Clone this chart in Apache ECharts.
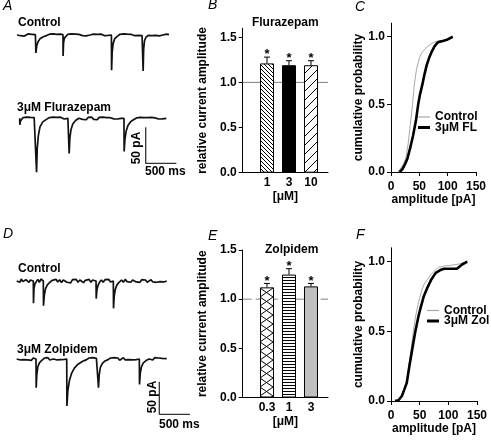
<!DOCTYPE html>
<html><head><meta charset="utf-8">
<script src="https://cdn.jsdelivr.net/npm/echarts@6/dist/echarts.min.js"></script>
<style>html,body{margin:0;padding:0;background:#fff}#c{width:491px;height:440px}</style>
</head><body><div id="c"></div>
<script>
// ---------- DATA ----------
// Panel A traces: [time ms, current pA]
const traceA_control = [[0,0],[30,1.5],[60,-1],[90,1.2],[120,-1.5],[150,0.8],[180,1.5],[210,-0.8],[240,1],[270,-1.2],[300,0.5],
 [305,0],[308,-25],[322,-15],[345,-9],[380,-5],[430,-2.5],[490,-0.5],[530,1.2],[560,-1],[590,1.5],[620,-0.5],[650,1],[680,-1.3],[710,1.2],[740,0],
 [750,0.5],[752,-29],[760,-10],[775,-4],[800,-1.5],[830,1],[860,-1],[890,1.5],[920,-0.5],[950,1.2],[980,-1.2],[1010,0.8],[1040,1.5],[1070,-0.8],[1100,1],[1130,-1.2],[1160,1.4],[1190,0],[1220,-1],[1250,1.3],[1280,-0.5],[1310,1],[1340,-1.4],[1370,1.2],[1400,0.3],[1430,-1],[1460,1.5],[1490,-0.6],[1520,1],
 [1540,0],[1543,-49],[1553,-24],[1568,-12],[1595,-5],[1640,-1.5],[1680,1],[1710,-1],[1740,1.5],[1770,-0.5],[1800,1.2],[1830,-1.3],[1860,1],[1890,0.2],[1920,-1],[1950,1.4],[1980,-0.6],[2010,1],[2040,-0.8],
 [2055,0],[2058,-50],[2066,-20],[2080,-8],[2105,-3],[2140,-0.5],[2170,1.2],[2200,-1],[2230,1.5],[2260,-0.5],[2290,1],[2320,-1.2],[2350,1.3],[2380,0],[2410,-1],[2440,1.2],[2470,-0.5],[2480,0.5]];
const traceA_flurazepam = [[44,0],[46,-9],[55,-4],[75,-1.5],[100,1],[130,-1],[160,1.5],[190,-0.5],[220,1.2],[250,-1],[280,1],[310,0],
 [316,0],[319,-75],[330,-42],[348,-24],[375,-12],[420,-5],[480,-1.5],[530,1],[560,-1],[590,1.5],[620,-0.8],[650,1.2],[680,-1],[710,1.5],[740,0],[770,-1],[800,1.3],[830,0],
 [848,0],[851,-49],[862,-28],[880,-16],[910,-8],[955,-3],[1010,0],[1040,1.5],[1070,-1.5],[1100,1],[1130,-2],[1160,1.2],[1190,-0.5],[1220,1.5],[1250,-1.5],[1280,0.5],[1310,-2],[1340,1.3],[1370,-0.5],[1400,1.5],[1430,-1],[1460,1],[1490,-1.5],[1520,0.8],[1550,1.5],[1580,-0.8],[1610,1.2],[1640,-1],[1670,1.5],[1700,0],[1730,1],
 [1745,0],[1748,-46],[1760,-30],[1780,-18],[1810,-10],[1850,-5],[1900,-2],[1950,0.5],[1980,-1],[2010,1.3],[2040,-0.5],[2070,1],[2100,-1.2],[2130,1],[2160,-0.5],[2190,1.3],[2220,-1],[2250,0.5],[2280,1.2],[2310,-1],[2340,0.8],[2370,-0.8],[2400,1],[2437,0]];
// Panel D traces
const traceD_control = [[0,0],[25,2.5],[50,-2],[75,3],[100,-1],[125,-3],[150,2],[175,3],[200,-2],[225,1.5],[250,-1],
 [271,0],[274,-34],[282,-12],[295,-5],[320,-1],[345,2.5],[370,-2],[395,3],[420,0],
 [434,0],[437,-38],[450,-22],[470,-12],[500,-6],[540,-2],[580,1],[610,-2],[640,2.5],[670,-1.5],[700,2],[730,-2.5],[760,1.5],[790,3],[820,-2],[850,1],[880,-3],[910,2],[940,-1],[970,2.5],[1000,-2],[1030,1.5],[1060,3],[1090,-2.5],[1120,1],[1150,-1.5],[1180,2.5],[1210,-2],[1240,1.5],[1270,0],
 [1294,0],[1297,-27],[1308,-14],[1325,-7],[1350,-2],[1380,1.5],[1410,-2],[1440,2],[1470,-1],[1500,2.5],[1530,-1.5],[1560,1],
 [1576,0],[1579,-42],[1590,-24],[1608,-13],[1635,-6],[1670,-2],[1710,1.5],[1740,-2],[1770,2.5],[1800,-1],[1830,2],[1860,-2],[1890,1.5],[1920,2.5],[1950,-1.5],[1980,1],[2010,-2],[2040,2],[2070,-1],[2100,1.5],[2130,-2],[2160,1],[2190,2],[2220,-1.5],[2250,1],[2280,-2],[2310,0.5],[2340,-1],[2370,1],[2400,-1.5],[2447,0]];
const traceD_zolpidem = [[0,0],[30,2],[60,-1.5],[90,1.5],[120,-1],[150,2],[180,-1.5],[210,1],[240,-2],[270,1.5],[300,0],
 [315,0],[318,-44],[328,-24],[345,-12],[370,-6],[410,-2],[450,1.5],[480,-1],[510,2],[540,-1.5],[570,1.5],[600,0],[630,2],[660,-1.5],[690,1.5],[720,-1],[750,2],[780,-0.5],[805,1],
 [816,0],[819,-72],[835,-48],[860,-33],[895,-22],[940,-14],[1000,-8],[1070,-4],[1140,-1],[1180,1.5],[1210,-1.5],[1240,2],[1270,-1],[1300,1],[1320,0],
 [1331,0],[1334,-44],[1346,-24],[1365,-13],[1395,-7],[1440,-3],[1490,-1],[1530,1.5],[1560,-1.5],[1590,2],[1620,-1],[1650,1.5],[1680,-2],[1710,1],[1740,2],[1770,-1.5],[1800,1],[1830,-1],[1860,2],[1890,-1.5],[1920,1],[1950,-1],[1980,0.5],
 [2000,0],[2003,-39],[2015,-22],[2035,-12],[2065,-6],[2110,-2.5],[2160,0],[2190,1.5],[2220,-1.5],[2250,2],[2280,-1],[2310,1.5],[2340,-1.5],[2370,1],[2400,-0.5],[2447,0.5]];
const scaleBarMs = 500, scaleBarPA = 50;

// Panel B
const catsB = ['1','3','10'];
const meanB = [1.21, 1.19, 1.19];
const semB  = [0.07, 0.05, 0.05];
// Panel E
const catsE = ['0.3','1','3'];
const meanE = [1.12, 1.25, 1.13];
const semE  = [0.04, 0.06, 0.03];

// Panel C cumulative distributions: [amplitude pA, probability]
const cdfC_control = [[12,0],[16,0.02],[22,0.06],[26,0.1],[30,0.2],[34,0.35],[38,0.5],[41,0.64],[45,0.76],[50,0.84],[54,0.88],[58,0.9],[65,0.93],[72,0.95],[77,0.96],[85,0.965],[93,0.97],[100,0.98],[109,1.0]];
const cdfC_fl = [[15,0],[20,0.02],[25,0.06],[29,0.1],[34,0.18],[39,0.27],[44,0.38],[48,0.5],[51,0.57],[55,0.64],[59,0.72],[63,0.79],[67,0.84],[72,0.89],[77,0.93],[83,0.96],[93,0.97],[100,0.98],[109,1.0]];
// Panel F
const cdfF_control = [[7,0],[15,0.01],[20,0.04],[26,0.13],[30,0.22],[35,0.37],[39,0.5],[43,0.61],[48,0.71],[54,0.8],[58,0.84],[63,0.87],[70,0.91],[77,0.94],[83,0.96],[95,0.97],[106,0.975],[120,0.985],[133,1.0]];
const cdfF_zol = [[7,0],[13,0.005],[19,0.036],[23,0.08],[27.5,0.13],[32,0.25],[37,0.37],[42,0.49],[48,0.61],[53,0.69],[57,0.75],[63,0.81],[70,0.87],[78,0.92],[86,0.94],[93,0.95],[100,0.95],[115,0.95],[124,0.98],[133,1.0]];

const yTicksBar = [0, 0.5, 1.0, 1.5];
const yTicksCdf = [0, 0.5, 1.0];

// ---------- STYLE / LAYOUT ----------
const FF = '"Liberation Sans", Arial, sans-serif';
const BOLD = {fontFamily: FF, fontWeight: 'bold', fontSize: 12, color: '#000'};

function pattern(kind){
  const c = document.createElement('canvas');
  let w = 4, h = 4;
  if (kind === 'fwd') { w = 9; h = 9; }
  if (kind === 'cross') { w = 13; h = 9; }
  if (kind === 'horiz') { w = 4; h = 3; }
  c.width = w; c.height = h;
  const g = c.getContext('2d');
  g.fillStyle = '#fff'; g.fillRect(0,0,w,h);
  g.strokeStyle = '#000'; g.lineWidth = 1;
  g.beginPath();
  if (kind === 'back') {
    g.moveTo(-1,-1); g.lineTo(w+1,h+1);
    g.moveTo(-1,h-1); g.lineTo(1,h+1);
    g.moveTo(w-1,-1); g.lineTo(w+1,1);
  } else if (kind === 'fwd') {
    g.moveTo(-1,h+1); g.lineTo(w+1,-1);
    g.moveTo(-1,1); g.lineTo(1,-1);
    g.moveTo(w-1,h+1); g.lineTo(w+1,h-1);
  } else if (kind === 'cross') {
    g.moveTo(0,0); g.lineTo(w,h);
    g.moveTo(0,h); g.lineTo(w,0);
  }
  g.stroke();
  if (kind === 'horiz') { g.fillStyle = '#000'; g.fillRect(0,1,w,1); }
  return {image: c, repeat: 'repeat'};
}

const patB = [pattern('back'), '#000', pattern('fwd')];
const patE = [pattern('cross'), pattern('horiz'), '#c0c0c0'];

const XMIN = -0.1045, XMAX = 3.773;

function traceX(gi, max){ return {type:'value', gridIndex:gi, min:0, max:max, show:false}; }
function traceY(gi, min, max){ return {type:'value', gridIndex:gi, min:min, max:max, show:false}; }

function barX(gi, cats){
  return {type:'value', gridIndex:gi, min:XMIN, max:XMAX,
    axisLine:{show:true, onZero:false, lineStyle:{color:'#000', width:1}},
    axisTick:{show:false}, splitLine:{show:false},
    axisLabel:{customValues:[1,2,3], formatter:v=>cats[Math.round(v)-1], margin:4, ...BOLD},
    name:'[\u03bcM]', nameLocation:'middle', nameGap:18, nameTextStyle:{...BOLD}};
}
function barY(gi, max){
  return {type:'value', gridIndex:gi, min:0, max:max,
    axisLine:{show:true, onZero:false, lineStyle:{color:'#000', width:1}},
    axisTick:{show:true, length:4, customValues:yTicksBar, lineStyle:{color:'#000'}},
    splitLine:{show:false},
    axisLabel:{customValues:yTicksBar, formatter:v=>v.toFixed(1), margin:6, ...BOLD},
    name:'relative current amplitude', nameLocation:'middle', nameGap:34, nameTextStyle:{...BOLD}};
}
function cdfX(gi, gap){
  return {type:'value', gridIndex:gi, min:0, max:150, interval:50,
    axisLine:{show:true, onZero:false, lineStyle:{color:'#000', width:1}},
    axisTick:{show:true, length:4, lineStyle:{color:'#000'}},
    splitLine:{show:false},
    axisLabel:{margin:9, ...BOLD},
    name:'amplitude [pA]', nameLocation:'middle', nameGap:gap, nameTextStyle:{...BOLD}};
}
function cdfY(gi, gap){
  return {type:'value', gridIndex:gi, min:0, max:1.1,
    axisLine:{show:true, onZero:false, lineStyle:{color:'#000', width:1}},
    axisTick:{show:true, length:4, customValues:yTicksCdf, lineStyle:{color:'#000'}},
    splitLine:{show:false},
    axisLabel:{customValues:yTicksCdf, formatter:v=>v.toFixed(1), margin:6, ...BOLD},
    name:'cumulative probability', nameLocation:'middle', nameGap:gap, nameTextStyle:{...BOLD}};
}

function traceSeries(gi, data){
  return {type:'line', xAxisIndex:gi, yAxisIndex:gi, data:data, symbol:'none',
    lineStyle:{color:'#111', width:1.7}, itemStyle:{color:'#111'}, silent:true, clip:false};
}
function scaleBar(gi, t0, i0){
  return {type:'line', xAxisIndex:gi, yAxisIndex:gi, symbol:'none', silent:true,
    data:[[t0, i0 + scaleBarPA],[t0, i0],[t0 + scaleBarMs, i0]],
    lineStyle:{color:'#333', width:1.3}, itemStyle:{color:'#333'}};
}
function refLine(gi, dashed){
  return {type:'line', xAxisIndex:gi, yAxisIndex:gi, symbol:'none', silent:true, z:1,
    data:[[XMIN,1],[XMAX,1]],
    lineStyle:{color:'#808080', width:1, type: dashed ? [9,4] : 'solid'}, itemStyle:{color:'#808080'}};
}
function barSeries(gi, means, pats){
  return {type:'bar', xAxisIndex:gi, yAxisIndex:gi, barWidth:14, z:3, silent:true,
    data: means.map((v,i)=>({value:[i+1, v], itemStyle:{color:pats[i], borderColor:'#000', borderWidth:1}}))};
}
function errSeries(gi, means, sems){
  return {type:'custom', xAxisIndex:gi, yAxisIndex:gi, z:4, silent:true,
    data: means.map((v,i)=>[i+1, v, sems[i]]),
    renderItem:function(params, api){
      const x = api.value(0), v = api.value(1), e = api.value(2);
      const p0 = api.coord([x, v]), p1 = api.coord([x, v + e]);
      return {type:'group', children:[
        {type:'line', shape:{x1:p0[0], y1:p0[1], x2:p1[0], y2:p1[1]}, style:{stroke:'#000', lineWidth:1}},
        {type:'line', shape:{x1:p1[0]-3, y1:p1[1], x2:p1[0]+3, y2:p1[1]}, style:{stroke:'#000', lineWidth:1}},
        {type:'text', x:p1[0], y:p1[1]+4, style:{text:'*', font:'bold 13px ' + FF, fill:'#000',
          align:'center', verticalAlign:'bottom', textAlign:'center', textVerticalAlign:'bottom'}}
      ]};
    }};
}
function cdfSeries(gi, name, data, thick){
  const col = thick ? '#000' : '#a8a8a8';
  return {type:'line', name:name, xAxisIndex:gi, yAxisIndex:gi, data:data, symbol:'none', silent:true,
    lineStyle:{color:col, width: thick ? 2.6 : 1}, itemStyle:{color:col}};
}
function txt(x, y, s, opts){
  opts = opts || {};
  return {type:'text', x:x, y:y, rotation: opts.rot || 0, silent:true,
    style:{text:s, font: opts.font || ('bold 12px ' + FF), fill:'#000',
      align: opts.align || 'left', verticalAlign:'middle',
      textAlign: opts.align || 'left', textVerticalAlign:'middle'}};
}
function legendOne(name, left, top, h, w){
  return {data:[name], left:left, top:top, orient:'vertical', padding:0, icon:'rect',
    itemWidth:w, itemHeight:h, selectedMode:false, textStyle:{...BOLD}};
}

const ITAL = 'italic 14px ' + FF;

const option = {
  animation:false,
  backgroundColor:'#fff',
  textStyle:{fontFamily:FF},
  grid:[
    {left:17, top:24.2, width:165.5, height:54, outerBoundsMode:'none'},
    {left:17, top:107.5, width:165.5, height:68.4, outerBoundsMode:'none'},
    {left:242.7, top:28.2, width:85.3, height:144.5, outerBoundsMode:'none'},
    {left:391, top:23.2, width:85, height:148.8, outerBoundsMode:'none'},
    {left:16.7, top:271.2, width:177.8, height:48.9, outerBoundsMode:'none'},
    {left:16.7, top:349.2, width:177.8, height:68.5, outerBoundsMode:'none'},
    {left:242.7, top:250, width:85.3, height:147.5, outerBoundsMode:'none'},
    {left:391, top:247.8, width:86, height:153.2, outerBoundsMode:'none'}
  ],
  xAxis:[traceX(0,2700), traceX(1,2700), barX(2,catsB), cdfX(3,18), traceX(4,2900), traceX(5,2900), barX(6,catsE), cdfX(7,15)],
  yAxis:[traceY(0,-60,15), traceY(1,-80,15), barY(2,1.6), cdfY(3,22), traceY(4,-60,15), traceY(5,-90,15), barY(6,1.5), cdfY(7,24)],
  legend:[
    legendOne('Control', 418, 111, 1.2, 12),
    legendOne('3\u03bcM FL', 418, 121.5, 3, 12),
    legendOne('Control', 427, 304.5, 1.2, 12),
    legendOne('3\u03bcM Zol', 427, 315, 3, 12)
  ],
  series:[
    traceSeries(0, traceA_control),
    traceSeries(1, traceA_flurazepam),
    scaleBar(1, 2100, -62.5),
    refLine(2, false),
    barSeries(2, meanB, patB),
    errSeries(2, meanB, semB),
    cdfSeries(3, 'Control', cdfC_control, false),
    cdfSeries(3, '3\u03bcM FL', cdfC_fl, true),
    traceSeries(4, traceD_control),
    traceSeries(5, traceD_zolpidem),
    scaleBar(5, 2326, -84.8),
    refLine(6, true),
    barSeries(6, meanE, patE),
    errSeries(6, meanE, semE),
    cdfSeries(7, 'Control', cdfF_control, false),
    cdfSeries(7, '3\u03bcM Zol', cdfF_zol, true)
  ],
  graphic:[
    txt(3, 6, 'A', {font:ITAL}),
    txt(208, 5, 'B', {font:ITAL}),
    txt(355, 7, 'C', {font:ITAL}),
    txt(3, 234, 'D', {font:ITAL}),
    txt(208, 236, 'E', {font:ITAL}),
    txt(356, 235.5, 'F', {font:ITAL}),
    txt(18, 22.5, 'Control'),
    txt(17, 107.5, '3\u03bcM Flurazepam'),
    txt(18, 269, 'Control'),
    txt(17, 350, '3\u03bcM Zolpidem'),
    txt(137, 148, '50 pA', {rot:Math.PI/2, align:'center'}),
    txt(145, 172, '500 ms'),
    txt(152.7, 397, '50 pA', {rot:Math.PI/2, align:'center'}),
    txt(159, 425, '500 ms'),
    txt(285.3, 22.5, 'Flurazepam', {align:'center'}),
    txt(291.7, 250, 'Zolpidem', {align:'center'})
  ]
};

const chart = echarts.init(document.getElementById('c'), null, {renderer:'canvas', width:491, height:440});
chart.setOption(option);
</script></body></html>
